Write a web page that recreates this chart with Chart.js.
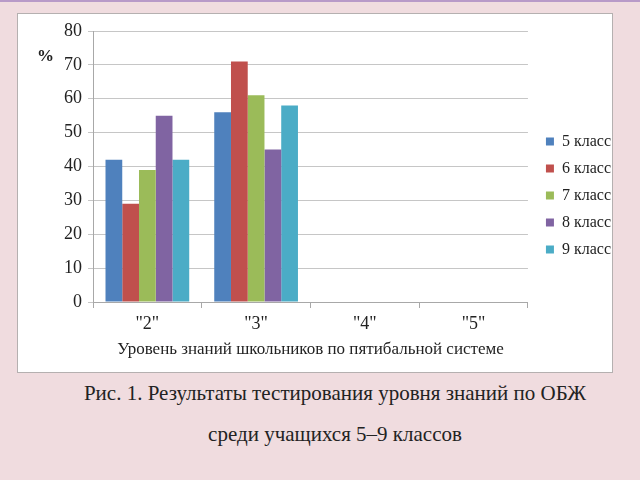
<!DOCTYPE html>
<html>
<head>
<meta charset="utf-8">
<script src="https://cdn.jsdelivr.net/npm/chart.js@4"></script>
<style>
  html, body { margin: 0; padding: 0; }
  body { width: 640px; height: 480px; background: #f0dcdf; position: relative; overflow: hidden; border-top: 2px solid #b89ac8; box-sizing: border-box; }
  #box { position: absolute; left: 17px; top: 11px; width: 594px; height: 358px; background: #fff; border: 1px solid #b5b0b0; }
  #box canvas { position: absolute; left: 0; top: 0; }
  #pct { position: absolute; left: 19px; top: 32px; font: bold 17px "Liberation Serif", serif; color: #222; }
  .cap { position: absolute; left: 0; width: 670px; text-align: center; font: 21px "Liberation Serif", serif; color: #222; }
</style>
</head>
<body>
<div id="box">
  <canvas id="chart" width="594" height="358"></canvas>
  <span id="pct">%</span>
</div>
<div class="cap" style="top: 379px;">Рис. 1. Результаты тестирования уровня знаний по ОБЖ</div>
<div class="cap" style="top: 420px;">среди учащихся 5–9 классов</div>
<script>
const categories = ['"2"', '"3"', '"4"', '"5"'];
const grade5 = [42, 56, null, null];
const grade6 = [29, 71, null, null];
const grade7 = [39, 61, null, null];
const grade8 = [55, 45, null, null];
const grade9 = [42, 58, null, null];
const seriesNames = ['5 класс', '6 класс', '7 класс', '8 класс', '9 класс'];
const colors = ['#4f81bd', '#c0504d', '#9bbb59', '#8064a2', '#4bacc6'];
const yTicks = [0, 10, 20, 30, 40, 50, 60, 70, 80];

const serif = '"Liberation Serif", "Times New Roman", serif';
const seriesData = [grade5, grade6, grade7, grade8, grade9];

// nudge the legend a little further from the plot, as in the original
const legendShift = {
    id: 'legendShift',
    afterLayout: function (chart) {
        chart.legend.left += 7;
        chart.legend.right += 7;
    }
};

var ctx = document.getElementById('chart').getContext('2d');
var chart = new Chart(ctx, {
    type: 'bar',
    data: {
        labels: categories,
        datasets: seriesData.map(function (d, i) {
            return {
                label: seriesNames[i],
                data: d,
                backgroundColor: colors[i],
                borderWidth: 0,
                barPercentage: 1,
                categoryPercentage: 0.77
            };
        })
    },
    options: {
        responsive: false,
        animation: false,
        layout: { padding: { left: 40, top: 17, right: -2, bottom: 12 } },
        plugins: {
            tooltip: { enabled: false },
            legend: {
                position: 'right',
                labels: {
                    boxWidth: 8,
                    boxHeight: 8,
                    padding: 11,
                    color: '#222',
                    font: { family: serif, size: 16 }
                }
            }
        },
        scales: {
            x: {
                grid: { display: true, drawOnChartArea: false, offset: true, tickLength: 6, color: '#a8a8a8' },
                border: { color: '#a8a8a8' },
                ticks: { color: '#222', font: { family: serif, size: 18 }, padding: 5 },
                title: { display: true, text: 'Уровень знаний школьников по пятибальной системе', color: '#222', font: { family: serif, size: 17 }, padding: { top: 0, bottom: 0 } }
            },
            y: {
                min: 0,
                max: 80,
                afterBuildTicks: function (axis) {
                    axis.ticks = yTicks.map(function (v) { return { value: v }; });
                },
                grid: { color: '#c6c6c6', tickLength: 5 },
                border: { color: '#a8a8a8' },
                ticks: { color: '#222', font: { family: serif, size: 18 }, padding: 6 }
            }
        }
    },
    plugins: [legendShift]
});
</script>
</body>
</html>
